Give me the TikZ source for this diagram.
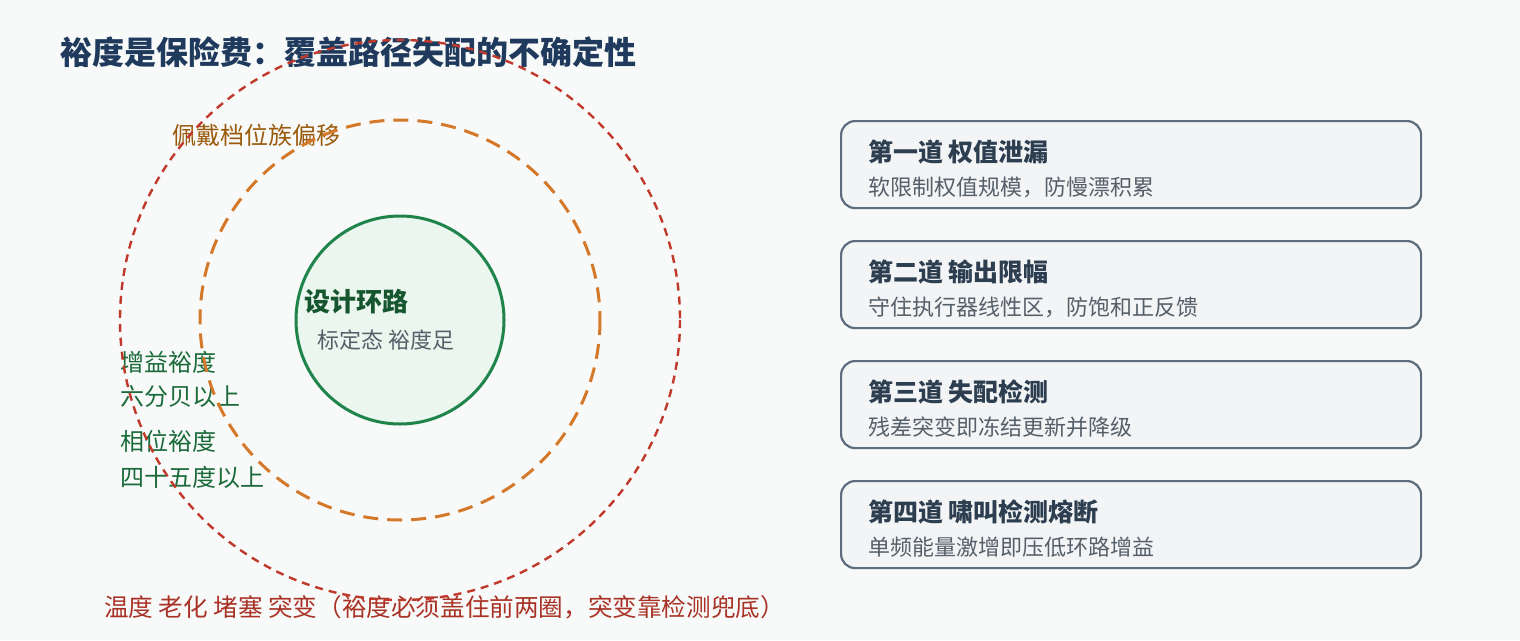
\documentclass[tikz,border=0pt]{standalone}
\usepackage{fontspec}
\setmainfont{Noto Sans CJK SC}
\usetikzlibrary{positioning,calc}

\definecolor{bgpaper}{HTML}{F8FAF9}
\definecolor{titlenavy}{HTML}{1F3A5C}
\definecolor{loopgreen}{HTML}{1E8449}
\definecolor{loopfill}{HTML}{EAF6EE}
\definecolor{textgreen}{HTML}{1B6B3A}
\definecolor{ringorange}{HTML}{D4782A}
\definecolor{ringred}{HTML}{C0392B}
\definecolor{textbrown}{HTML}{9A5A0C}
\definecolor{textred}{HTML}{A93226}
\definecolor{boxline}{HTML}{5D6D7E}
\definecolor{boxfill}{HTML}{F3F4F5}
\definecolor{boxtitle}{HTML}{2C3E50}
\definecolor{greytext}{HTML}{555F69}

\tikzset{
  label text/.style={anchor=west,inner sep=0pt},
  guard box/.style={draw=boxline,line width=2.2pt,fill=boxfill,rounded corners=14pt,
    minimum width=580pt,minimum height=87pt,anchor=north west,inner sep=0pt},
  head text/.style={label text,text=boxtitle,font=\fontsize{25}{29}\selectfont\bfseries},
  body text/.style={label text,text=greytext,font=\fontsize{22}{26}\selectfont},
}

\begin{document}
\begin{tikzpicture}[x=1pt,y=-1pt]
% Page 1520 x 640
\fill[bgpaper] (0,0) rectangle (1520,640);
\useasboundingbox (0,0) rectangle (1520,640);

% Title
\node[label text,text=titlenavy,font=\fontsize{32}{36}\selectfont\bfseries] (title) at (60,52)
  {裕度是保险费：覆盖路径失配的不确定性};

% Centre of the rings
\coordinate (O) at (400,320);

% Design loop
\draw[loopgreen,line width=3pt,fill=loopfill] (O) circle[radius=104];
\node[label text,text=textgreen!80!black,font=\fontsize{26}{30}\selectfont\bfseries] (loop) at (304,302) {设计环路};
\node[label text,text=greytext,font=\fontsize{22}{26}\selectfont] (nominal) at (317,340) {标定态 裕度足};

% Ring labels
\node[label text,text=textbrown,font=\fontsize{24}{28}\selectfont] (drift) at (172,135) {佩戴档位族偏移};
\node[label text,text=textgreen,font=\fontsize{24}{28}\selectfont] (gm) at (120,362) {增益裕度};
\node[label text,text=textgreen,font=\fontsize{24}{28}\selectfont] (gmval) at (120,397) {六分贝以上};
\node[label text,text=textgreen,font=\fontsize{24}{28}\selectfont] (pm) at (120,441) {相位裕度};
\node[label text,text=textgreen,font=\fontsize{24}{28}\selectfont] (pmval) at (120,477) {四十五度以上};
\node[label text,text=textred,font=\fontsize{24.6}{29}\selectfont] (outer) at (104,607)
  {温度 老化 堵塞 突变（裕度必须盖住前两圈，突变靠检测兜底）};

% Draw the two uncertainty rings
\draw[ringorange,line width=3pt,dash pattern=on 15pt off 9pt] (O) circle[radius=200];
\draw[ringred,line width=2.4pt,dash pattern=on 8pt off 6pt] (O) circle[radius=280];

% Four guards
\foreach \i/\head/\body in {1/第一道 权值泄漏/软限制权值规模，防慢漂积累,
    2/第二道 输出限幅/守住执行器线性区，防饱和正反馈,
    3/第三道 失配检测/残差突变即冻结更新并降级,
    4/第四道 啸叫检测熔断/单频能量激增即压低环路增益}{
  \node[guard box] (guard\i) at (840,{120*\i}) {};
  \node[head text] (guardhead\i) at ($(guard\i.north west)+(28,32)$) {\head};
  \node[body text] (guardbody\i) at ($(guard\i.north west)+(28,67)$) {\body};
}
\end{tikzpicture}
\end{document}
